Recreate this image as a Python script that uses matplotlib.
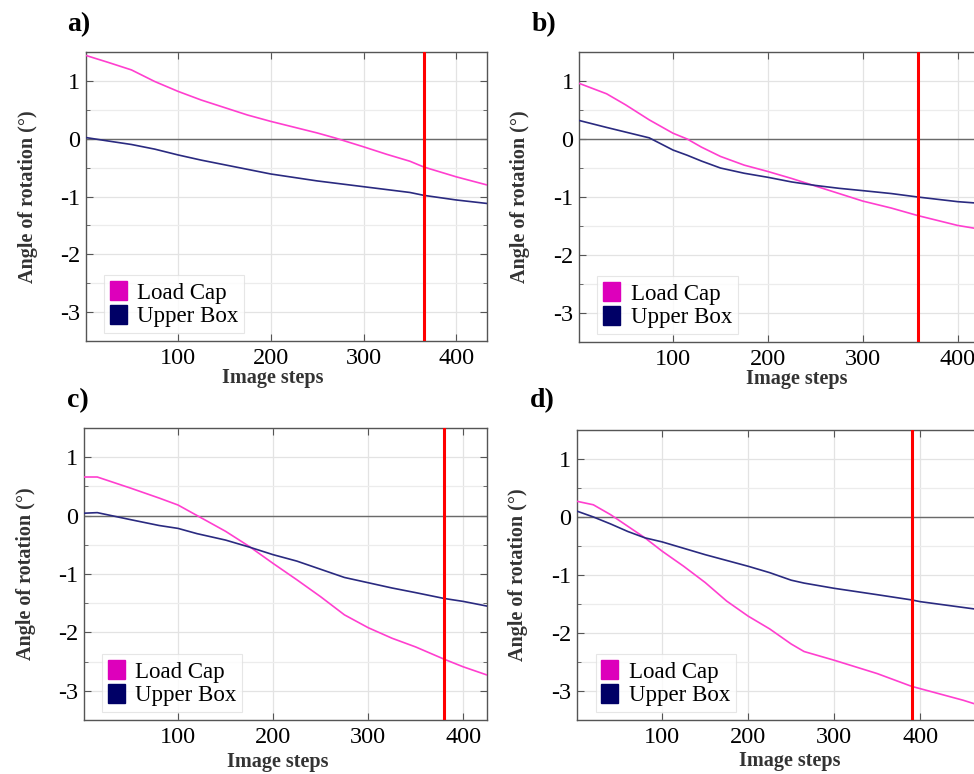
import matplotlib
matplotlib.use("Agg")
import matplotlib.pyplot as plt
from matplotlib.patches import Patch
from matplotlib.ticker import MultipleLocator

plt.rcParams['font.family'] = ['Liberation Serif', 'DejaVu Serif']
plt.rcParams['axes.unicode_minus'] = False

# panel a
a_x = [1, 25, 50, 75, 100, 125, 150, 175, 200, 225, 250, 270, 300, 325, 350, 365, 400, 433]
a_cap = [1.44, 1.32, 1.19, 0.99, 0.82, 0.67, 0.54, 0.41, 0.30, 0.20, 0.10, 0.01, -0.14,
         -0.27, -0.39, -0.49, -0.66, -0.80]
a_box = [0.02, -0.04, -0.10, -0.18, -0.28, -0.37, -0.45, -0.53, -0.61, -0.67, -0.73, -0.77,
         -0.83, -0.88, -0.93, -0.98, -1.06, -1.12]
a_red = 365

# panel b
b_x = [1, 30, 50, 75, 100, 115, 130, 150, 175, 200, 225, 250, 275, 300, 330, 358, 400, 433]
b_cap = [0.96, 0.78, 0.59, 0.33, 0.10, 0.0, -0.14, -0.30, -0.45, -0.56, -0.68, -0.81, -0.94,
         -1.07, -1.19, -1.32, -1.49, -1.58]
b_box = [0.32, 0.20, 0.12, 0.02, -0.19, -0.28, -0.38, -0.50, -0.59, -0.66, -0.74, -0.80,
         -0.85, -0.89, -0.94, -1.00, -1.08, -1.12]
b_red = 358

# panel c
c_x = [1, 15, 50, 80, 100, 120, 150, 175, 200, 225, 250, 275, 300, 325, 350, 380, 400, 425]
c_cap = [0.66, 0.66, 0.47, 0.30, 0.18, 0.0, -0.27, -0.53, -0.82, -1.10, -1.39, -1.70, -1.92,
         -2.10, -2.25, -2.46, -2.59, -2.73]
c_box = [0.04, 0.05, -0.07, -0.17, -0.22, -0.31, -0.42, -0.54, -0.67, -0.78, -0.92, -1.06, -1.15,
         -1.24, -1.32, -1.42, -1.47, -1.55]
c_red = 380

# panel d
d_x = [1, 20, 40, 60, 80, 100, 125, 150, 175, 200, 225, 250, 265, 300, 350, 390, 400, 450, 480]
d_cap = [0.27, 0.21, 0.04, -0.16, -0.36, -0.59, -0.85, -1.13, -1.45, -1.71, -1.93, -2.19, -2.32,
         -2.47, -2.70, -2.92, -2.96, -3.16, -3.30]
d_box = [0.10, 0.00, -0.12, -0.25, -0.36, -0.43, -0.54, -0.65, -0.75, -0.85, -0.96, -1.09, -1.14,
         -1.23, -1.34, -1.43, -1.46, -1.56, -1.62]
d_red = 390

panels = [
    ('a)', a_x, a_cap, a_box, a_red, [0.0883, 0.5594, 0.4117, 0.3734], 433, (67, 31), (0.466, -0.092)),
    ('b)', b_x, b_cap, b_box, b_red, [0.5945, 0.5581, 0.4209, 0.3747], 433, (532, 31), (0.53, -0.092)),
    ('c)', c_x, c_cap, c_box, c_red, [0.0862, 0.0698, 0.4138, 0.3773], 425, (67, 407), (0.48, -0.108)),
    ('d)', d_x, d_cap, d_box, d_red, [0.5924, 0.0698, 0.4230, 0.3747], 480, (530, 407), (0.516, -0.108)),
]

fig = plt.figure(figsize=(9.74, 7.74), dpi=100)

for label, x, cap, box, red, pos, xmax, lpos, xlab in panels:
    ax = fig.add_axes(pos)
    ax.grid(True, which='major', color='#e3e3e3', lw=0.9)
    ax.grid(True, which='minor', axis='y', color='#ececec', lw=0.9)
    ax.set_axisbelow(True)
    ax.axhline(0, color='#6a6a6a', lw=1.0, zorder=1)
    ax.plot(x, cap, color='#ff3fcf', lw=1.2, zorder=3)
    ax.plot(x, box, color='#2a2a80', lw=1.2, zorder=3)
    ax.axvline(red, color='#ff0000', lw=2.2, zorder=4)
    ax.set_xlim(1, xmax)
    ax.set_ylim(-3.5, 1.5)
    ax.xaxis.set_major_locator(MultipleLocator(100))
    ax.yaxis.set_major_locator(MultipleLocator(1))
    ax.yaxis.set_minor_locator(MultipleLocator(0.5))
    ax.tick_params(which='both', direction='in', top=True, right=True, color='#555555',
                   labelsize=17.5)
    ax.tick_params(axis='x', pad=5)
    ax.tick_params(axis='y', pad=4)
    ax.tick_params(which='major', length=5)
    ax.tick_params(which='minor', length=3)
    for s in ax.spines.values():
        s.set_color('#555555')
        s.set_linewidth(1.0)
    ax.set_xlabel('Image steps', fontsize=14.5, fontweight='bold', color='#333333')
    ax.xaxis.set_label_coords(*xlab)
    ax.set_ylabel('Angle of rotation (°)', fontsize=14.5, fontweight='bold', color='#333333')
    ax.yaxis.set_label_coords(-0.12, 0.5)
    handles = [Patch(facecolor='#dd00bb', edgecolor='#dd00bb', label='Load Cap'),
               Patch(facecolor='#000066', edgecolor='#000066', label='Upper Box')]
    leg = ax.legend(handles=handles, loc='lower left', bbox_to_anchor=(0.045, 0.028),
                    fontsize=16.5, frameon=True, fancybox=False, handlelength=0.75,
                    handleheight=0.9, handletextpad=0.45, borderpad=0.25, labelspacing=0.05,
                    borderaxespad=0)
    leg.get_frame().set_edgecolor('#e0e0e0')
    leg.get_frame().set_linewidth(0.8)
    fig.text(lpos[0] / 974, 1 - lpos[1] / 774, label, fontsize=20, fontweight='bold',
             va='baseline', ha='left')

fig.savefig('out.png', dpi=100)
